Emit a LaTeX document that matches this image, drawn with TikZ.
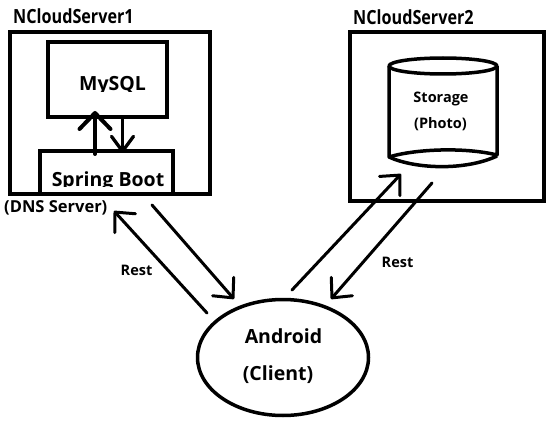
\documentclass[tikz,border=0pt]{standalone}
\usepackage{fontspec}
\setmainfont{Open Sans}
\usetikzlibrary{arrows.meta,shapes.geometric}
\newcommand{\narrowtxt}[1]{\scalebox{0.83}[1]{#1}}
\begin{document}
\begin{tikzpicture}[x=1pt,y=-1pt,
  box/.style={draw, line width=4pt, inner sep=0pt},
  cyl/.style={line width=3.5pt, line join=round},
  arr/.style={line width=3pt, line cap=round, -{Straight Barb[length=15pt,width=28pt,round]}},
  thinarr/.style={line width=3.3pt, line cap=round, -{Straight Barb[length=15pt,width=22pt,round]}},
  bigtxt/.style={font=\fontsize{19.5}{23}\selectfont\bfseries, inner sep=0pt, anchor=base},
  smalltxt/.style={font=\fontsize{14.5}{17}\selectfont\bfseries, inner sep=0pt, anchor=base}]
\useasboundingbox (0,0) rectangle (549,425);
\fill[white] (0,0) rectangle (549,425);

% server boxes
\node[box, minimum width=200pt, minimum height=162pt] (srv1) at (110,113) {};
\node[box, minimum width=194pt, minimum height=169pt] (srv2) at (447,116.5) {};
\node[box, minimum width=119pt, minimum height=75pt] (mysql) at (107.5,79.5) {};
\node[box, minimum width=133pt, minimum height=43pt] (spring) at (106.5,172.5) {};

% titles
\node[bigtxt, anchor=base west] (t1) at (13,24) {\narrowtxt{NCloudServer1}};
\node[bigtxt, anchor=base west] (t2) at (353,25) {\narrowtxt{NCloudServer2}};

% clipped texts
\begin{scope}
  \clip (50,60) rectangle (165,91.5);
  \node[bigtxt] (mysqltxt) at (112.5,91) {MySQL};
\end{scope}
\begin{scope}
  \clip (42,160) rectangle (171,186.5);
  \node[bigtxt] (springtxt) at (108,186) {Spring Boot};
\end{scope}
\node[smalltxt, font=\fontsize{16.5}{19}\selectfont\bfseries, anchor=base west] (dns) at (4,212) {(DNS Server)};

% cylinder
\draw[cyl] (443,66) ellipse [x radius=54, y radius=8];
\draw[cyl] (389,66) -- (389,157) .. controls (415,149) and (465,147) .. (497,155) -- (497,66);
\draw[cyl] (389,157) .. controls (415,169) and (465,171) .. (497,156);
\node[smalltxt] (stor) at (441,103) {Storage};
\node[smalltxt] (photo) at (440.5,129) {(Photo)};

% android
\node[draw, ellipse, line width=3.5pt, minimum width=171pt, minimum height=116pt, inner sep=0pt] (android) at (283,357.5) {};
\node[bigtxt] (andtxt) at (283.5,343) {Android};
\node[bigtxt] (clitxt) at (278,380) {(Client)};

% internal arrows
\coordinate (upS) at (95,154);
\coordinate (upE) at (95,111);
\coordinate (dnS) at (122.5,117);
\coordinate (dnE) at (122.5,153);
\draw[line width=4pt, line cap=round, -{Straight Barb[length=16pt,width=31pt,round]}] (upS) -- (upE);
\draw[thinarr] (dnS) -- (dnE);

% REST arrows
\coordinate (a1s) at (207,313);
\coordinate (a1e) at (114,211);
\coordinate (a2s) at (152,205);
\coordinate (a2e) at (234,299);
\coordinate (a3s) at (292,290);
\coordinate (a3e) at (401,174);
\coordinate (a4s) at (432,183);
\coordinate (a4e) at (331,299);
\draw[arr] (a1s) -- (a1e);
\draw[arr] (a2s) -- (a2e);
\draw[arr] (a3s) -- (a3e);
\draw[arr] (a4s) -- (a4e);

\node[smalltxt] (rest1) at (136.5,275) {Rest};
\node[smalltxt] (rest2) at (397.5,267) {Rest};
\end{tikzpicture}
\end{document}
